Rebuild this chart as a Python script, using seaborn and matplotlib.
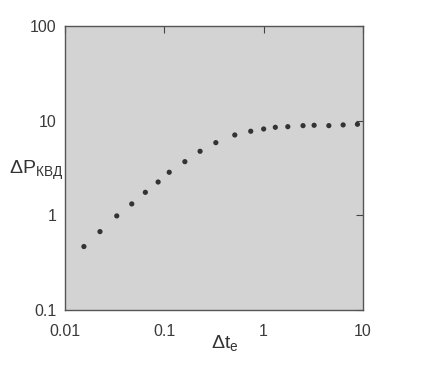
import numpy as np
import pandas as pd
import seaborn as sns
import matplotlib
matplotlib.use('Agg')
import matplotlib.pyplot as plt

# values
dt_e = [0.0155, 0.0225, 0.0332, 0.047, 0.0644, 0.0866, 0.112, 0.161, 0.229,
        0.330, 0.512, 0.741, 1.0, 1.31, 1.75, 2.49, 3.22, 4.53, 6.31, 8.79]
dp_kvd = [0.468, 0.673, 0.986, 1.32, 1.75, 2.25, 2.85, 3.69, 4.75,
          5.86, 7.06, 7.73, 8.17, 8.51, 8.64, 8.86, 8.94, 8.86, 9.02, 9.16]
x_ticks = [0.01, 0.1, 1, 10]
x_labels = ['0.01', '0.1', '1', '10']
y_ticks = [0.1, 1, 10, 100]
y_labels = ['0.1', '1', '10', '100']

df = pd.DataFrame({'dt': dt_e, 'dp': dp_kvd})

sns.set_style('white')
plt.rcParams['font.family'] = ['Liberation Sans', 'DejaVu Sans']
plt.rcParams['mathtext.fontset'] = 'custom'
plt.rcParams['mathtext.rm'] = 'Liberation Sans'
plt.rcParams['mathtext.it'] = 'Liberation Sans'

fig = plt.figure(figsize=(4.3, 3.72), dpi=100)
ax = fig.add_axes([65 / 430, 1 - 310 / 372, 298 / 430, 284 / 372])
ax.set_facecolor('#d3d3d3')

sns.scatterplot(data=df, x='dt', y='dp', ax=ax, s=14, color='#333333',
                edgecolor='none', legend=False)

ax.set_xscale('log')
ax.set_yscale('log')
ax.set_xlim(0.01, 10)
ax.set_ylim(0.1, 100)
ax.set_xticks(x_ticks)
ax.set_xticklabels(x_labels)
ax.set_yticks(y_ticks)
ax.set_yticklabels(y_labels)
ax.minorticks_off()
ax.tick_params(direction='in', length=5, width=0.8, color='#444444',
               top=True, right=True, labelsize=11.5, labelcolor='#3a3a3a', pad=10)
ax.tick_params(axis='y', pad=6)
for sp in ax.spines.values():
    sp.set_color('#555555')
    sp.set_linewidth(1.0)
ax.set_xlabel('')
ax.set_ylabel('')

fig.text(9 / 430, 1 - 170 / 372, r'$\Delta\mathrm{P_{КВД}}$', fontsize=14,
         color='#333333', va='center', ha='left')
fig.text(211 / 430, 1 - 343 / 372, r'$\Delta\mathrm{t_e}$', fontsize=14,
         color='#333333', va='center', ha='left')

fig.savefig('out.png', dpi=100, facecolor='white')
